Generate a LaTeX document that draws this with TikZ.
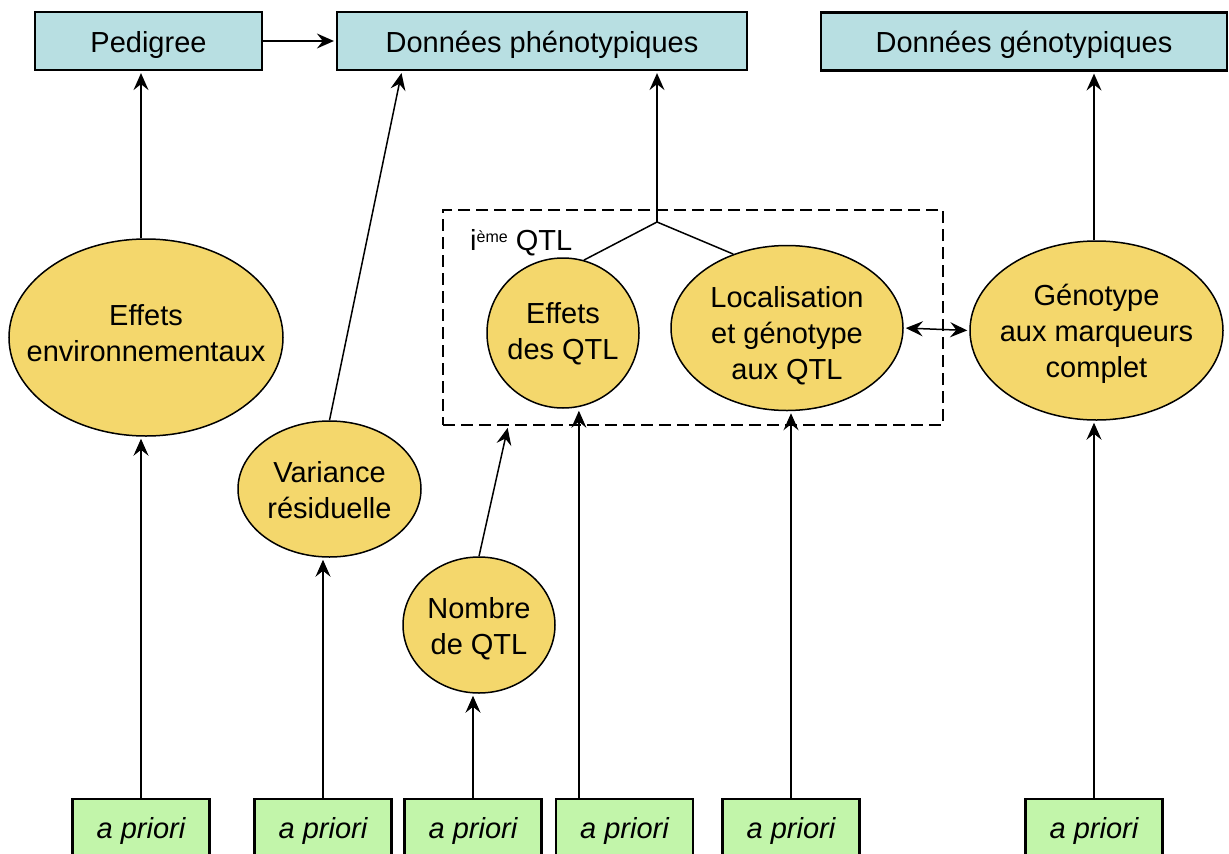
\documentclass[tikz,border=0pt]{standalone}
\usepackage{fontspec}
\setmainfont{Liberation Sans}
\usetikzlibrary{arrows.meta,calc,shapes.geometric}
\definecolor{boxblue}{RGB}{184,223,226}
\definecolor{ellyel}{RGB}{244,215,108}
\definecolor{prigreen}{RGB}{194,245,170}
\tikzset{
  txt/.style={font=\fontsize{29}{36}\selectfont, align=center, inner sep=0pt},
  topbox/.style={txt, draw, line width=2.2pt, fill=boxblue, minimum height=58pt, inner sep=0pt, text height=22pt, text depth=0pt},
  pribox/.style={txt, draw, line width=2.2pt, fill=prigreen, minimum width=137pt, minimum height=62pt, inner sep=0pt, text height=22pt, text depth=6pt, font=\fontsize{29}{36}\selectfont\itshape},
  ell/.style={draw, ellipse, line width=1.5pt, fill=ellyel, inner sep=0pt},
  conn/.style={line width=1.5pt},
  tip/.tip={Stealth[length=17pt,width=15pt,inset=6pt]},
  arr/.style={conn, -tip, shorten >=2pt},
  darr/.style={conn, tip-tip, shorten >=2pt, shorten <=2pt},
  qtlbox/.style={draw, line width=1.8pt, dash pattern=on 12pt off 6pt, inner sep=0pt}
}
\begin{document}
\begin{tikzpicture}[x=1pt,y=-1pt]
\useasboundingbox (0,0) rectangle (1229,854);
\fill[white] (0,0) rectangle (1229,854);
% top boxes
\node[topbox, minimum width=227pt] (ped) at (148.5,41) {Pedigree};
\node[topbox, minimum width=410pt] (phen) at (542,41) {Données phénotypiques};
\node[topbox, minimum width=406pt] (geno) at (1024,41.5) {Données génotypiques};
% dashed QTL box
\node[qtlbox, minimum width=500pt, minimum height=215pt] (qbox) at (693,317.5) {};
\node[txt, anchor=base west] (ieme) at (470,250) {i{\fontsize{16}{16}\selectfont\raisebox{8pt}{ème}} QTL};
% ellipses
\node[ell, minimum width=274pt, minimum height=197pt] (env) at (146,337.5) {};
\node[txt] (envT) at (146,333) {Effets\\environnementaux};
\node[ell, minimum width=183pt, minimum height=136pt] (var) at (329.5,489) {};
\node[txt] (varT) at (329.5,490) {Variance\\résiduelle};
\node[ell, minimum width=152pt, minimum height=136pt] (nqtl) at (479,625) {};
\node[txt] (nqtlT) at (479,629) {Nombre\\de QTL};
\node[ell, minimum width=152pt, minimum height=150pt] (effq) at (563,333) {};
\node[txt] (effqT) at (563,334) {Effets\\des QTL};
\node[ell, minimum width=232pt, minimum height=165pt] (loc) at (787,328) {};
\node[txt] (locT) at (787,336) {Localisation\\et génotype\\aux QTL};
\node[ell, minimum width=253pt, minimum height=179pt] (gen) at (1096.5,330.5) {};
\node[txt] (genT) at (1096.5,334) {Génotype\\aux marqueurs\\complet};
% bottom boxes
\node[pribox] (b1) at (141,830) {a priori};
\node[pribox] (b2) at (323,830) {a priori};
\node[pribox] (b3) at (473,830) {a priori};
\node[pribox] (b4) at (624.5,830) {a priori};
\node[pribox] (b5) at (791,830) {a priori};
\node[pribox] (b6) at (1094,830) {a priori};
% helper coordinates
\coordinate (J) at (657,222);
\coordinate (phenIn) at ($(phen.south west)+(66,0)$);
\coordinate (qIn) at ($(qbox.south west)+(66,0)$);
\coordinate (b4in) at ($(b4.north west)+(24,0)$);
% connectors
\draw[arr] (ped.east) -- (phen.west);
\draw[arr] (env.north -| b1.north) -- (b1.north |- ped.south);
\draw[arr] (var.north) -- (phenIn);
\draw[conn] (effq.74) -- (J) -- (loc.126);
\draw[arr] (J) -- (J |- phen.south);
\draw[arr] (b6.north |- gen.north) -- (b6.north |- geno.south);
\draw[darr] (loc.east) -- (gen.west);
\draw[arr] (nqtl.north) -- (qIn);
\draw[arr] (b1.north) -- (b1.north |- env.south);
\draw[arr] (b2.north) -- (b2.north |- var.south);
\draw[arr] (b3.north) -- (b3.north |- nqtl.south);
\draw[arr] (b4in) -- (b4in |- effq.south);
\draw[arr] (b5.north) -- (b5.north |- loc.south);
\draw[arr] (b6.north) -- (b6.north |- gen.south);
\end{tikzpicture}
\end{document}
